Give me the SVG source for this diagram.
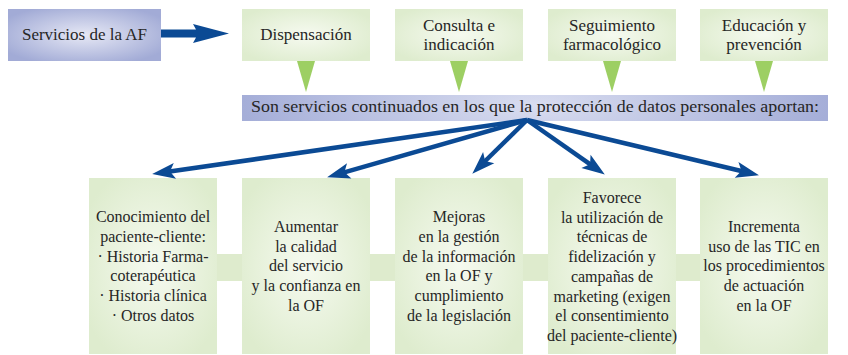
<svg xmlns="http://www.w3.org/2000/svg" width="848" height="355" viewBox="0 0 848 355" font-family="'Liberation Serif', 'Times New Roman', 'DejaVu Serif', serif">
<defs>
<radialGradient id="gGreen" cx="0.5" cy="0.5" r="0.6">
<stop offset="0" stop-color="#f6faf0"/>
<stop offset="1" stop-color="#deecce"/>
</radialGradient>
<radialGradient id="gBlue" cx="0.5" cy="0.5" r="0.6">
<stop offset="0" stop-color="#e6e8f5"/>
<stop offset="1" stop-color="#a2abd6"/>
</radialGradient>
<radialGradient id="gBanner" cx="0.5" cy="0.4" r="0.5" gradientTransform="translate(0.5 0.4) scale(1 6) translate(-0.5 -0.4)">
<stop offset="0" stop-color="#d9ddf0"/>
<stop offset="1" stop-color="#a5aed8"/>
</radialGradient>
<marker id="ah" markerUnits="userSpaceOnUse" markerWidth="30" markerHeight="20" refX="7" refY="0" viewBox="0 -10 30 20" orient="auto" overflow="visible">
<path d="M0,-8 L23,0 L0,8 L5,0 Z" fill="#0b4a94"/>
</marker>
</defs>
<style>
.box{fill:url(#gGreen);}
.t{font-family:'Liberation Serif','Times New Roman','DejaVu Serif',serif;fill:#262626;text-anchor:middle;}
.top{font-size:17px;}
.bot{font-size:16px;}
.tri{fill:#9dcf63;}
.conn{stroke:#0b4a94;stroke-width:4.5;fill:none;marker-end:url(#ah);}
</style>

<rect x="217" y="254" width="483" height="27" fill="#deebcd"/>

<g id="servicios-af">
<rect x="8" y="9" width="153" height="52" fill="url(#gBlue)"/>
<text class="t top" x="84.5" y="40">Servicios de la AF</text>
</g>

<g id="dispensacion">
<rect class="box" x="242" y="9" width="128" height="52"/>
<text class="t top" x="306" y="40">Dispensación</text>
</g>
<g id="consulta">
<rect class="box" x="395" y="9" width="128" height="52"/>
<text class="t top" x="459" y="31">Consulta e</text>
<text class="t top" x="459" y="50">indicación</text>
</g>
<g id="seguimiento">
<rect class="box" x="548" y="9" width="128" height="52"/>
<text class="t top" x="612" y="31">Seguimiento</text>
<text class="t top" x="612" y="50">farmacológico</text>
</g>
<g id="educacion">
<rect class="box" x="700" y="9" width="128" height="52"/>
<text class="t top" x="764" y="31">Educación y</text>
<text class="t top" x="764" y="50">prevención</text>
</g>

<g id="banner">
<rect x="242" y="95" width="586" height="26" fill="url(#gBanner)"/>
<text class="t" x="535" y="112" font-size="16.5" textLength="568" lengthAdjust="spacingAndGlyphs">Son servicios continuados en los que la protección de datos personales aportan:</text>
</g>

<g id="conocimiento">
<rect class="box" x="89" y="178" width="128" height="176"/>
<text class="t bot" x="153" y="222">Conocimiento del</text>
<text class="t bot" x="153" y="242">paciente-cliente:</text>
<text class="t bot" x="153" y="262">· Historia Farma-</text>
<text class="t bot" x="153" y="281">coterapéutica</text>
<text class="t bot" x="153" y="301">· Historia clínica</text>
<text class="t bot" x="153" y="321">· Otros datos</text>
</g>
<g id="aumentar">
<rect class="box" x="242" y="178" width="128" height="176"/>
<text class="t bot" x="306" y="232">Aumentar</text>
<text class="t bot" x="306" y="252">la calidad</text>
<text class="t bot" x="306" y="271">del servicio</text>
<text class="t bot" x="306" y="291">y la confianza en</text>
<text class="t bot" x="306" y="311">la OF</text>
</g>
<g id="mejoras">
<rect class="box" x="395" y="178" width="128" height="176"/>
<text class="t bot" x="459" y="222">Mejoras</text>
<text class="t bot" x="459" y="242">en la gestión</text>
<text class="t bot" x="459" y="262">de la información</text>
<text class="t bot" x="459" y="281">en la OF y</text>
<text class="t bot" x="459" y="301">cumplimiento</text>
<text class="t bot" x="459" y="321">de la legislación</text>
</g>
<g id="favorece">
<rect class="box" x="548" y="178" width="128" height="176"/>
<text class="t bot" x="612" y="203">Favorece</text>
<text class="t bot" x="612" y="223">la utilización de</text>
<text class="t bot" x="612" y="242">técnicas de</text>
<text class="t bot" x="612" y="262">fidelización y</text>
<text class="t bot" x="612" y="282">campañas de</text>
<text class="t bot" x="612" y="302">marketing (exigen</text>
<text class="t bot" x="612" y="321">el consentimiento</text>
<text class="t bot" x="612" y="341">del paciente-cliente)</text>
</g>
<g id="incrementa">
<rect class="box" x="700" y="178" width="128" height="176"/>
<text class="t bot" x="764" y="232">Incrementa</text>
<text class="t bot" x="764" y="252">uso de las TIC en</text>
<text class="t bot" x="764" y="271">los procedimientos</text>
<text class="t bot" x="764" y="291">de actuación</text>
<text class="t bot" x="764" y="311">en la OF</text>
</g>

<g id="connectors">
<polygon points="161,29.5 196,29.5 193,24 229,33.5 193,43 196,37.5 161,37.5" fill="#0b4a94"/>
<polygon class="tri" points="297,61 315,61 306,92"/>
<polygon class="tri" points="450,61 468,61 459,92"/>
<polygon class="tri" points="603,61 621,61 612,92"/>
<polygon class="tri" points="755,61 773,61 764,92"/>
<line class="conn" x1="527" y1="120" x2="168" y2="171.8"/>
<line class="conn" x1="527" y1="120" x2="342.5" y2="172.8"/>
<line class="conn" x1="527" y1="120" x2="483.7" y2="162.5"/>
<line class="conn" x1="527" y1="120" x2="591.7" y2="165.4"/>
<line class="conn" x1="527" y1="120" x2="743.4" y2="171.5"/>
</g>
</svg>
